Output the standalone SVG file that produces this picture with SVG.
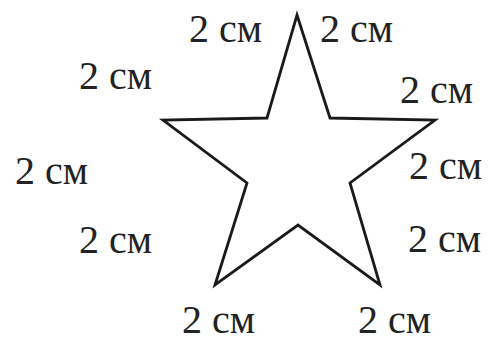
<svg xmlns="http://www.w3.org/2000/svg" width="490" height="345" viewBox="0 0 490 345">
<style>
.lbl{font-family:"Liberation Serif","Times New Roman",serif;font-size:40px;fill:#222;}
.star{fill:none;stroke:#1a1a1a;stroke-width:2.8;stroke-linejoin:miter;}
</style>
<rect width="490" height="345" fill="#fff"/>
<g id="star">
<polygon class="star" points="297,15 330,118 435,120 350,183 380,285 298,225 215,285 247,183 163,120 267,118"/>
</g>
<g id="labels">
<text class="lbl" x="189" y="42">2 см</text>
<text class="lbl" x="320" y="42">2 см</text>
<text class="lbl" x="400" y="103">2 см</text>
<text class="lbl" x="409" y="179">2 см</text>
<text class="lbl" x="408" y="252">2 см</text>
<text class="lbl" x="79" y="89">2 см</text>
<text class="lbl" x="15" y="184">2 см</text>
<text class="lbl" x="79" y="253">2 см</text>
<text class="lbl" x="182" y="333">2 см</text>
<text class="lbl" x="358" y="333">2 см</text>
</g>
</svg>
